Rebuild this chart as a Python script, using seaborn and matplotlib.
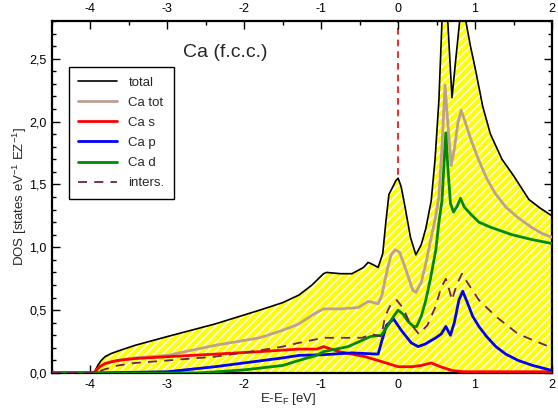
import numpy as np
import pandas as pd
import matplotlib
matplotlib.use("Agg")
import matplotlib.pyplot as plt
from matplotlib.ticker import MultipleLocator, FuncFormatter
import seaborn as sns

# ---------------- data ----------------
total_E = [-4.5, -3.96, -3.93, -3.90, -3.86, -3.81, -3.73, -3.64, -3.42, -3.0, -2.38, -1.8, -1.5,
           -1.29, -1.12, -1.02, -0.97, -0.93, -0.75, -0.6, -0.45, -0.39, -0.32, -0.26, -0.2,
           -0.16, -0.12, -0.07, -0.03, 0.0, 0.04, 0.09, 0.16, 0.23, 0.30, 0.36, 0.43, 0.48,
           0.53, 0.57, 0.61, 0.645, 0.70, 0.75, 0.80, 0.84, 0.88, 0.94, 1.0, 1.1, 1.2, 1.35,
           1.5, 1.7, 1.85, 2.0]
total = [0, 0, 0.03, 0.065, 0.10, 0.13, 0.155, 0.175, 0.22, 0.29, 0.39, 0.50, 0.56,
         0.62, 0.70, 0.76, 0.79, 0.80, 0.79, 0.79, 0.84, 0.88, 0.86, 0.84, 0.95,
         1.2, 1.42, 1.48, 1.53, 1.55, 1.48, 1.32, 1.08, 0.94, 1.02, 1.15, 1.37, 1.7,
         2.17, 2.8, 3.1, 2.8, 2.19, 2.5, 2.8, 3.2, 2.8, 2.6, 2.43, 2.12, 1.9, 1.70,
         1.57, 1.38, 1.31, 1.25]

catot_E = [-4.5, -3.95, -3.92, -3.88, -3.81, -3.72, -3.64, -3.42, -3.0, -2.38, -1.8, -1.5,
           -1.29, -1.12, -0.97, -0.75, -0.52, -0.39, -0.32, -0.26, -0.21, -0.17, -0.13, -0.09,
           -0.04, 0.02, 0.09, 0.19, 0.23, 0.30, 0.36, 0.42, 0.48, 0.53, 0.57, 0.61, 0.65,
           0.69, 0.73, 0.78, 0.82, 0.87, 0.95, 1.05, 1.15, 1.26, 1.40, 1.55, 1.73, 1.87, 2.0]
catot = [0, 0, 0.025, 0.05, 0.075, 0.09, 0.10, 0.12, 0.14, 0.22, 0.28, 0.34,
         0.39, 0.46, 0.51, 0.51, 0.52, 0.57, 0.56, 0.55, 0.62, 0.74, 0.85, 0.94,
         0.98, 0.96, 0.84, 0.66, 0.64, 0.72, 0.87, 1.05, 1.22, 1.40, 1.8, 2.29, 1.95,
         1.65, 1.78, 2.0, 2.09, 2.0, 1.85, 1.69, 1.55, 1.43, 1.32, 1.24, 1.16, 1.11, 1.08]

cas_E = [-4.5, -3.95, -3.92, -3.88, -3.81, -3.72, -3.64, -3.42, -2.99, -2.38, -1.8, -1.29,
         -1.06, -0.97, -0.77, -0.6, -0.43, -0.21, 0.0, 0.18, 0.3, 0.43, 0.55, 0.70, 0.85, 2.0]
cas = [0, 0, 0.025, 0.05, 0.075, 0.09, 0.10, 0.115, 0.13, 0.15, 0.17, 0.19,
       0.19, 0.21, 0.17, 0.15, 0.13, 0.09, 0.05, 0.05, 0.06, 0.08, 0.05, 0.02, 0.01, 0.01]

cap_E = [-4.5, -3.9, -3.5, -3.0, -2.38, -1.5, -1.29, -0.98, -0.6, -0.26, -0.21, -0.15,
         -0.06, 0.04, 0.17, 0.26, 0.35, 0.49, 0.56, 0.62, 0.68, 0.73, 0.79, 0.84, 0.90,
         0.97, 1.05, 1.15, 1.27, 1.4, 1.56, 1.75, 2.0]
cap = [0, 0, 0.005, 0.01, 0.05, 0.12, 0.14, 0.145, 0.16, 0.15, 0.26, 0.38,
       0.43, 0.34, 0.24, 0.21, 0.23, 0.28, 0.31, 0.37, 0.30, 0.40, 0.58, 0.65, 0.56,
       0.45, 0.37, 0.29, 0.21, 0.15, 0.10, 0.06, 0.02]

cad_E = [-4.5, -2.6, -2.35, -2.0, -1.5, -1.29, -1.06, -0.97, -0.65, -0.36, -0.22, -0.13,
         -0.06, 0.0, 0.06, 0.13, 0.2, 0.24, 0.30, 0.36, 0.42, 0.49, 0.53, 0.57, 0.60, 0.62,
         0.65, 0.68, 0.72, 0.77, 0.81, 0.86, 0.95, 1.05, 1.2, 1.48, 1.75, 2.0]
cad = [0, 0, 0.01, 0.025, 0.06, 0.10, 0.14, 0.17, 0.21, 0.29, 0.30, 0.38,
       0.45, 0.50, 0.47, 0.41, 0.37, 0.37, 0.45, 0.58, 0.75, 0.98, 1.2, 1.37, 1.7, 1.91,
       1.6, 1.35, 1.28, 1.33, 1.39, 1.32, 1.26, 1.20, 1.16, 1.10, 1.06, 1.03]

inters_E = [-4.5, -3.93, -3.88, -3.81, -3.64, -3.42, -2.99, -2.38, -1.8, -1.5, -1.29, -0.97,
            -0.47, -0.35, -0.22, -0.17, -0.1, -0.02, 0.06, 0.15, 0.27, 0.38, 0.48, 0.56,
            0.62, 0.67, 0.70, 0.76, 0.83, 0.90, 1.05, 1.27, 1.56, 1.8, 2.0]
inters = [0, 0, 0.015, 0.03, 0.06, 0.08, 0.10, 0.13, 0.18, 0.21, 0.24, 0.28,
          0.28, 0.31, 0.29, 0.45, 0.54, 0.58, 0.52, 0.40, 0.31, 0.38, 0.52, 0.68,
          0.75, 0.65, 0.58, 0.70, 0.79, 0.72, 0.58, 0.45, 0.31, 0.25, 0.20]

x_ticks = [-4, -3, -2, -1, 0, 1, 2]
y_ticks = [0.0, 0.5, 1.0, 1.5, 2.0, 2.5]

# ---------------- style ----------------
sns.set_theme(style="ticks")
plt.rcParams['font.family'] = ['Liberation Sans', 'DejaVu Sans']
plt.rcParams['axes.unicode_minus'] = False
plt.rcParams['hatch.linewidth'] = 1.2
plt.rcParams['mathtext.fontset'] = 'custom'
plt.rcParams['mathtext.rm'] = 'Liberation Sans'
plt.rcParams['mathtext.it'] = 'Liberation Sans'

fig = plt.figure(figsize=(5.58, 4.08), dpi=100)
ax = fig.add_axes([0.0932, 0.0858, 0.896, 0.8627])

# E_F line (behind the fill)
ax.axvline(0, color='red', ls=(0, (4, 3)), lw=1.2, zorder=0.5)

# hatched fill under total DOS
ax.fill_between(total_E, total, 0, facecolor='#ffff00', edgecolor='white',
                hatch='////', linewidth=0, zorder=1)

series = [
    (total_E, total, 'total', 'black', 1.2),
    (catot_E, catot, 'Ca tot', '#bf9f92', 2.0),
    (cas_E, cas, 'Ca s', '#ff0000', 2.0),
    (cap_E, cap, 'Ca p', '#0000ff', 2.0),
    (cad_E, cad, 'Ca d', '#008a00', 2.0),
]
for xe, yv, lab, col, lw in series:
    df = pd.DataFrame({'E': xe, 'DOS': yv})
    sns.lineplot(data=df, x='E', y='DOS', ax=ax, color=col, lw=lw, label=lab,
                 estimator=None, zorder=3)
df = pd.DataFrame({'E': inters_E, 'DOS': inters})
sns.lineplot(data=df, x='E', y='DOS', ax=ax, color='#6e1f4f', lw=1.3, label='inters.',
             estimator=None, zorder=3, dashes=False)
ax.lines[-1].set_linestyle((0, (5, 4)))

ax.set_xlim(-4.5, 2.0)
ax.set_ylim(0, 2.8)
ax.set_xticks(x_ticks)
ax.set_yticks(y_ticks)
ax.xaxis.set_minor_locator(MultipleLocator(0.5))
ax.yaxis.set_minor_locator(MultipleLocator(0.1))
ax.xaxis.set_major_formatter(FuncFormatter(lambda v, p: f"{v:g}"))
ax.yaxis.set_major_formatter(FuncFormatter(lambda v, p: f"{v:.1f}".replace('.', ',')))
ax.tick_params(which='both', direction='in', top=True, right=True, labeltop=True,
               labelright=False, labelsize=9, colors='black', width=1.0, pad=4)
ax.tick_params(which='major', length=6)
ax.tick_params(which='minor', length=3)
for s in ax.spines.values():
    s.set_linewidth(1.6)
    s.set_color('black')

ax.set_xlabel(r'E-E$_\mathrm{F}$ [eV]', fontsize=9.5)
ax.set_ylabel(r'DOS [states eV$^{-1}$ EZ$^{-1}$]', fontsize=9.5)
ax.xaxis.set_label_coords(0.472, -0.05)
ax.yaxis.set_label_coords(-0.046, 0.5)

ax.text(0.262, 0.935, 'Ca (f.c.c.)', transform=ax.transAxes, fontsize=14,
        ha='left', va='top')

leg = ax.legend(loc='upper left', bbox_to_anchor=(0.034, 0.869), borderaxespad=0,
                fontsize=9.5, frameon=True, fancybox=False, handlelength=2.9,
                handletextpad=0.9, borderpad=0.7, labelspacing=0.6)
leg.get_frame().set_edgecolor('black')
leg.get_frame().set_linewidth(1.0)
leg.get_frame().set_alpha(1)
leg.set_zorder(5)

fig.savefig('out.png', dpi=100)
